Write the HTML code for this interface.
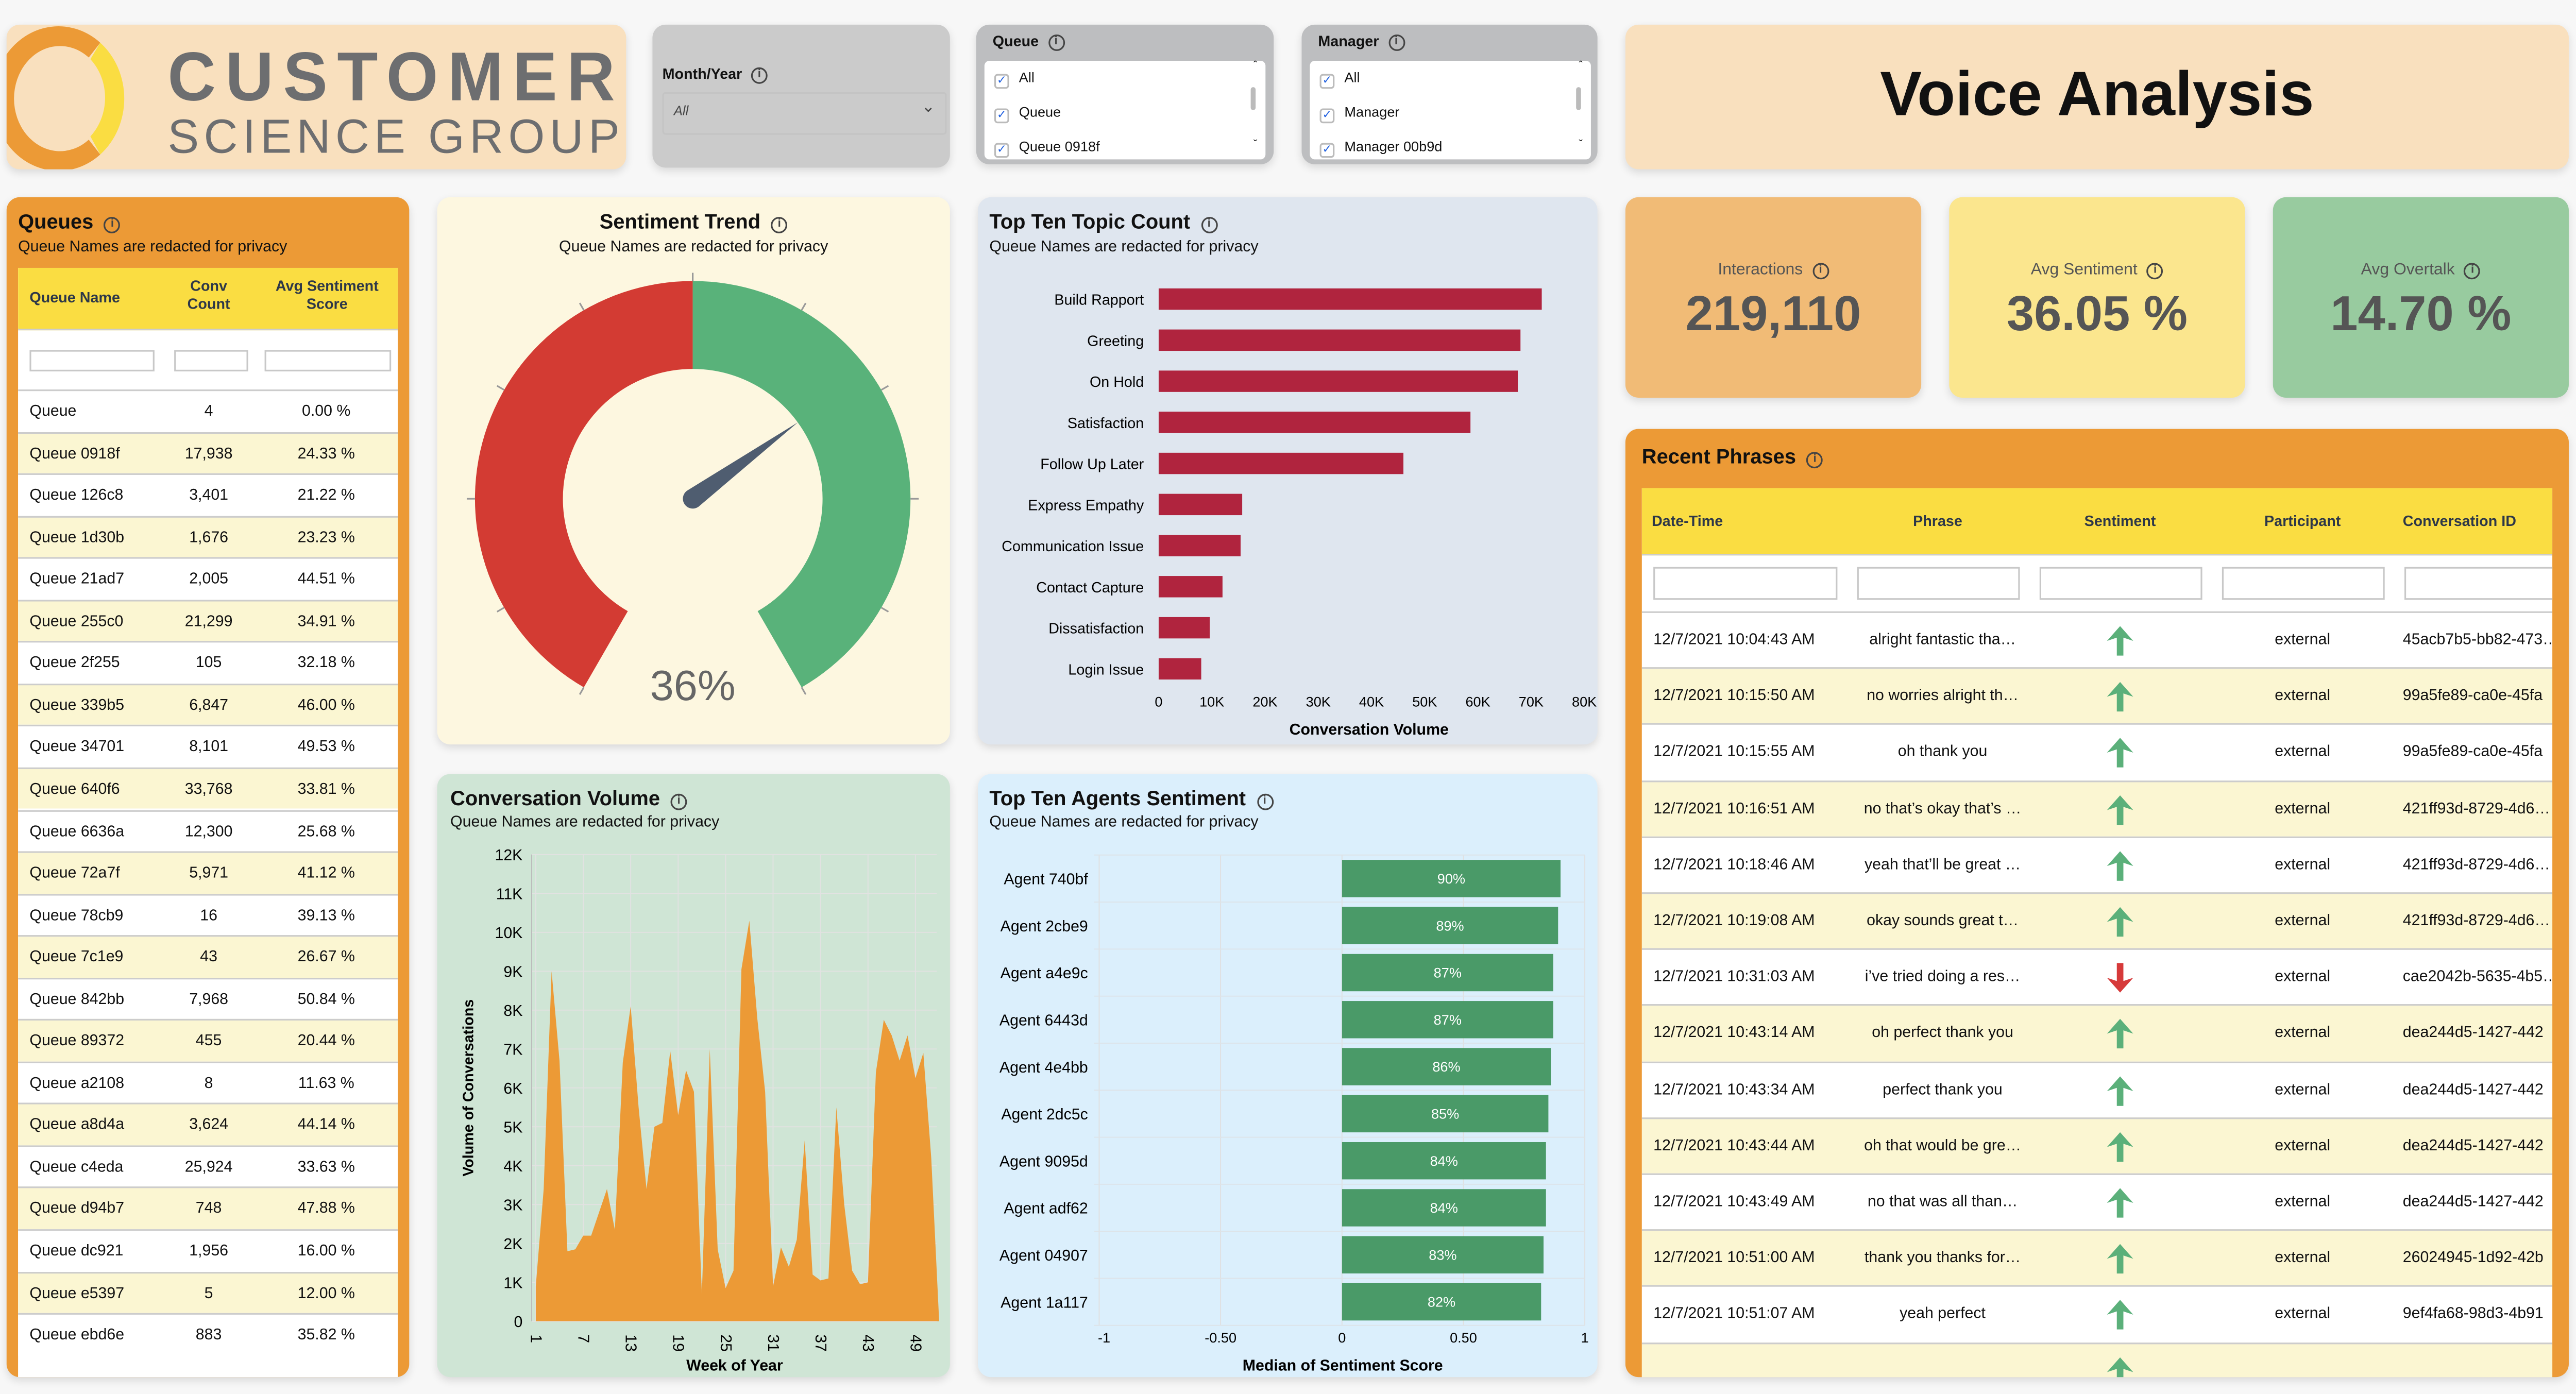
<!DOCTYPE html>
<html><head><meta charset="utf-8">
<style>
html,body{margin:0;padding:0;background:#f7f7f7;overflow:hidden;width:5038px;height:2706px}
#root{position:absolute;left:0;top:0;width:1568px;height:842px;transform-origin:0 0;transform:scale(3.190,3.190);font-family:"Liberation Sans",sans-serif;color:#111}
.p{position:absolute;border-radius:8px;box-shadow:0 2px 5px rgba(0,0,0,0.12)}
.t{position:absolute;white-space:nowrap}
.info{display:inline-block;width:8px;height:8px;border:1.2px solid #444;border-radius:50%;font-size:7px;line-height:8px;text-align:center;font-weight:bold;color:#444;vertical-align:1px;margin-left:3px}
.cb{display:inline-block;width:7px;height:7px;border:1px solid #bbb;border-radius:2px;font-size:7px;line-height:7px;color:#2060e0;text-align:center;margin-right:6px;vertical-align:-1px}
.fi{position:absolute;background:#fff;border:1px solid #c8c8c8;height:11px}
</style></head><body>
<div id="root">

<div class="p" style="left:4px;top:15px;width:377px;height:88px;background:#f9e0be">
<svg width="377" height="88">
<path d="M 57 11 A 40 44 0 1 0 57 79 L 50 70 A 28 32 0 1 1 50 20 Z" fill="#ec9a36"/>
<path d="M 57 11 A 40 44 0 0 1 57 79 L 51 68 A 30 33 0 0 0 51 21 Z" fill="#fadd42"/>
<text x="98" y="46" font-family="Liberation Sans" font-weight="bold" font-size="42" fill="#6d6e70" letter-spacing="6" textLength="278" lengthAdjust="spacingAndGlyphs">CUSTOMER</text>
<text x="98" y="78" font-family="Liberation Sans" font-size="29" fill="#6d6e70" letter-spacing="3" textLength="278" lengthAdjust="spacingAndGlyphs">SCIENCE GROUP</text>
</svg></div>

<div class="p" style="left:397px;top:15px;width:181px;height:87px;background:#cbcbcb">
<div class="t" style="left:6px;top:25px;font-size:9px;font-weight:bold">Month/Year <span class="info">i</span></div>
<div style="position:absolute;left:6px;top:41px;width:171px;height:24px;border:1px solid #c4c4c4;border-radius:2px">
<div class="t" style="left:6px;top:6px;font-size:8px;font-style:italic;color:#444">All</div>
<div class="t" style="right:6px;top:3px;font-size:10px;color:#444">&#8964;</div></div>
</div>

<div class="p" style="left:594px;top:15px;width:181px;height:85px;background:#bdbec0">
<div class="t" style="left:10px;top:5px;font-size:9px;font-weight:bold">Queue <span class="info">i</span></div>
<div style="position:absolute;left:5px;top:22px;width:171px;height:60px;background:#fff;border-radius:3px">
<div class="t" style="left:6px;top:5px;font-size:8.5px"><span class="cb">✓</span>All</div>
<div class="t" style="left:6px;top:26px;font-size:8.5px"><span class="cb">✓</span>Queue</div>
<div class="t" style="left:6px;top:47px;font-size:8.5px"><span class="cb">✓</span>Queue 0918f</div>
<div style="position:absolute;right:6px;top:16px;width:3px;height:14px;background:#bbb;border-radius:2px"></div>
<div class="t" style="right:5px;top:0px;font-size:7px">&#710;</div><div class="t" style="right:5px;top:48px;font-size:7px">&#711;</div>
</div></div>

<div class="p" style="left:792px;top:15px;width:180px;height:85px;background:#bdbec0">
<div class="t" style="left:10px;top:5px;font-size:9px;font-weight:bold">Manager <span class="info">i</span></div>
<div style="position:absolute;left:5px;top:22px;width:171px;height:60px;background:#fff;border-radius:3px">
<div class="t" style="left:6px;top:5px;font-size:8.5px"><span class="cb">✓</span>All</div>
<div class="t" style="left:6px;top:26px;font-size:8.5px"><span class="cb">✓</span>Manager</div>
<div class="t" style="left:6px;top:47px;font-size:8.5px"><span class="cb">✓</span>Manager 00b9d</div>
<div style="position:absolute;right:6px;top:16px;width:3px;height:14px;background:#bbb;border-radius:2px"></div>
<div class="t" style="right:5px;top:0px;font-size:7px">&#710;</div><div class="t" style="right:5px;top:48px;font-size:7px">&#711;</div>
</div></div>

<div class="p" style="left:989px;top:15px;width:574px;height:88px;background:#f9e0be">
<div class="t" style="left:0;width:574px;text-align:center;top:22px;font-size:38px;font-weight:bold">Voice Analysis</div></div>

<div class="p" style="left:989px;top:120px;width:180px;height:122px;background:#f1bb76">
<div class="t" style="width:180px;text-align:center;top:39px;font-size:10px;color:#555">Interactions <span class="info">i</span></div>
<div class="t" style="width:180px;text-align:center;top:55px;font-size:30px;font-weight:bold;color:#555">219,110</div></div>
<div class="p" style="left:1186px;top:120px;width:180px;height:122px;background:#fbe68e">
<div class="t" style="width:180px;text-align:center;top:39px;font-size:10px;color:#555">Avg Sentiment <span class="info">i</span></div>
<div class="t" style="width:180px;text-align:center;top:55px;font-size:30px;font-weight:bold;color:#555">36.05 %</div></div>
<div class="p" style="left:1383px;top:120px;width:180px;height:122px;background:#98cb9f">
<div class="t" style="width:180px;text-align:center;top:39px;font-size:10px;color:#555">Avg Overtalk <span class="info">i</span></div>
<div class="t" style="width:180px;text-align:center;top:55px;font-size:30px;font-weight:bold;color:#555">14.70 %</div></div>

<div class="p" style="left:4px;top:120px;width:245px;height:718px;background:#ec9a36;overflow:hidden">
<div class="t" style="left:7px;top:8px;font-size:12.5px;font-weight:bold">Queues <span class="info">i</span></div>
<div class="t" style="left:7px;top:25px;font-size:9.5px">Queue Names are redacted for privacy</div>
<div id="qtable" style="position:absolute;left:7px;top:43px;width:231px;height:680px;background:#fff;overflow:hidden">
<div style="position:absolute;left:0;top:0;width:231px;height:37px;background:#fadd42;border-bottom:1px solid #ccc;color:#2d3748;font-size:9px;font-weight:bold">
<div class="t" style="left:7px;top:13px">Queue Name</div>
<div class="t" style="left:96px;width:40px;text-align:center;top:6px;line-height:11px">Conv<br>Count</div>
<div class="t" style="left:148px;width:80px;text-align:center;top:6px;line-height:11px">Avg Sentiment<br>Score</div></div>
<div class="fi" style="left:7px;top:50px;width:74px"></div>
<div class="fi" style="left:95px;top:50px;width:43px"></div>
<div class="fi" style="left:150px;top:50px;width:75px"></div>
</div></div>

<div class="p" style="left:266px;top:120px;width:312px;height:333px;background:#fdf7e0">
<div class="t" style="width:312px;text-align:center;top:8px;font-size:12.5px;font-weight:bold">Sentiment Trend <span class="info">i</span></div>
<div class="t" style="width:312px;text-align:center;top:25px;font-size:9.5px">Queue Names are redacted for privacy</div></div>
<svg id="gauge" style="position:absolute;left:266px;top:120px" width="312" height="333"></svg>

<div class="p" style="left:595px;top:120px;width:377px;height:333px;background:#dfe6ef">
<div class="t" style="left:7px;top:8px;font-size:12.5px;font-weight:bold">Top Ten Topic Count <span class="info">i</span></div>
<div class="t" style="left:7px;top:25px;font-size:9.5px">Queue Names are redacted for privacy</div></div>
<svg id="topic" style="position:absolute;left:0;top:0" width="1568" height="842"></svg>

<div class="p" style="left:266px;top:471px;width:312px;height:367px;background:#cfe5d5">
<div class="t" style="left:8px;top:8px;font-size:12.5px;font-weight:bold">Conversation Volume <span class="info">i</span></div>
<div class="t" style="left:8px;top:24px;font-size:9.5px">Queue Names are redacted for privacy</div></div>
<svg id="area" style="position:absolute;left:0;top:0" width="1568" height="842"></svg>

<div class="p" style="left:595px;top:471px;width:377px;height:367px;background:#dbeffc">
<div class="t" style="left:7px;top:8px;font-size:12.5px;font-weight:bold">Top Ten Agents Sentiment <span class="info">i</span></div>
<div class="t" style="left:7px;top:24px;font-size:9.5px">Queue Names are redacted for privacy</div></div>
<svg id="agents" style="position:absolute;left:0;top:0" width="1568" height="842"></svg>

<div class="p" style="left:989px;top:261px;width:574px;height:577px;background:#ec9a36;overflow:hidden">
<div class="t" style="left:10px;top:10px;font-size:12.5px;font-weight:bold">Recent Phrases <span class="info">i</span></div>
<div id="ptable" style="position:absolute;left:10px;top:36px;width:554px;height:560px;background:#fff;overflow:hidden">
<div style="position:absolute;left:0;top:0;width:554px;height:40px;background:#fadd42;border-bottom:1px solid #ccc;color:#2d3748;font-size:9px;font-weight:bold">
<div class="t" style="left:6px;top:15px">Date-Time</div>
<div class="t" style="left:125px;width:110px;text-align:center;top:15px">Phrase</div>
<div class="t" style="left:241px;width:100px;text-align:center;top:15px">Sentiment</div>
<div class="t" style="left:352px;width:100px;text-align:center;top:15px">Participant</div>
<div class="t" style="left:463px;top:15px">Conversation ID</div></div>
<div class="fi" style="left:7px;top:48px;width:110px;height:18px"></div>
<div class="fi" style="left:131px;top:48px;width:97px;height:18px"></div>
<div class="fi" style="left:242px;top:48px;width:97px;height:18px"></div>
<div class="fi" style="left:353px;top:48px;width:97px;height:18px"></div>
<div class="fi" style="left:464px;top:48px;width:97px;height:18px"></div>
</div></div>

</div>
<script>
const NS='http://www.w3.org/2000/svg';
const queueNames=['Queue','Queue 0918f','Queue 126c8','Queue 1d30b','Queue 21ad7','Queue 255c0','Queue 2f255','Queue 339b5','Queue 34701','Queue 640f6','Queue 6636a','Queue 72a7f','Queue 78cb9','Queue 7c1e9','Queue 842bb','Queue 89372','Queue a2108','Queue a8d4a','Queue c4eda','Queue d94b7','Queue dc921','Queue e5397','Queue ebd6e'];
const queueCounts=['4','17,938','3,401','1,676','2,005','21,299','105','6,847','8,101','33,768','12,300','5,971','16','43','7,968','455','8','3,624','25,924','748','1,956','5','883'];
const queueScores=['0.00 %','24.33 %','21.22 %','23.23 %','44.51 %','34.91 %','32.18 %','46.00 %','49.53 %','33.81 %','25.68 %','41.12 %','39.13 %','26.67 %','50.84 %','20.44 %','11.63 %','44.14 %','33.63 %','47.88 %','16.00 %','12.00 %','35.82 %'];
const gaugeValue=0.36;
const topicNames=['Build Rapport','Greeting','On Hold','Satisfaction','Follow Up Later','Express Empathy','Communication Issue','Contact Capture','Dissatisfaction','Login Issue'];
const topicValues=[72000,68000,67500,58600,46000,15700,15400,12000,9600,8000];
const topicTicks=[0,10000,20000,30000,40000,50000,60000,70000,80000];
const weeks=[];for(let i=1;i<=52;i++)weeks.push(i);
const weekVolumes=[900,3400,9000,6700,1800,1850,2200,2200,2800,3400,2350,6650,8100,5500,3400,5000,5100,6950,5300,6450,5900,700,7000,1850,850,1300,9050,10300,7800,5900,900,1900,1400,2100,4650,1200,1050,1100,5500,3000,1300,950,1000,6400,7750,7350,6700,7350,6250,6900,4200,0];
const volumeTicks=[0,1000,2000,3000,4000,5000,6000,7000,8000,9000,10000,11000,12000];
const weekTicks=[1,7,13,19,25,31,37,43,49];
const agentNames=['Agent 740bf','Agent 2cbe9','Agent a4e9c','Agent 6443d','Agent 4e4bb','Agent 2dc5c','Agent 9095d','Agent adf62','Agent 04907','Agent 1a117'];
const agentScores=[0.90,0.89,0.87,0.87,0.86,0.85,0.84,0.84,0.83,0.82];
const agentTicks=[-1,-0.5,0,0.5,1];
const agentTickLabels=['-1','-0.50','0','0.50','1'];
const phraseTimes=['12/7/2021 10:04:43 AM','12/7/2021 10:15:50 AM','12/7/2021 10:15:55 AM','12/7/2021 10:16:51 AM','12/7/2021 10:18:46 AM','12/7/2021 10:19:08 AM','12/7/2021 10:31:03 AM','12/7/2021 10:43:14 AM','12/7/2021 10:43:34 AM','12/7/2021 10:43:44 AM','12/7/2021 10:43:49 AM','12/7/2021 10:51:00 AM','12/7/2021 10:51:07 AM',''];
const phraseTexts=['alright fantastic tha…','no worries alright th…','oh thank you','no that\u2019s okay that\u2019s …','yeah that\u2019ll be great …','okay sounds great t…','i\u2019ve tried doing a res…','oh perfect thank you','perfect thank you','oh that would be gre…','no that was all than…','thank you thanks for…','yeah perfect',''];
const phraseSent=[1,1,1,1,1,1,-1,1,1,1,1,1,1,1];
const phraseIds=['45acb7b5-bb82-473…','99a5fe89-ca0e-45fa','99a5fe89-ca0e-45fa','421ff93d-8729-4d6…','421ff93d-8729-4d6…','421ff93d-8729-4d6…','cae2042b-5635-4b5…','dea244d5-1427-442','dea244d5-1427-442','dea244d5-1427-442','dea244d5-1427-442','26024945-1d92-42b','9ef4fa68-98d3-4b91',''];

function se(tag,attrs,parent){const e=document.createElementNS(NS,tag);for(const k in attrs)e.setAttribute(k,attrs[k]);parent.appendChild(e);return e;}
function txt(parent,x,y,s,size,anchor,extra){const e=se('text',Object.assign({x:x,y:y,'font-size':size,'text-anchor':anchor||'start','font-family':'Liberation Sans'},extra||{}),parent);e.textContent=s;return e;}

const qt=document.getElementById('qtable');
queueNames.forEach((n,i)=>{
  const r=document.createElement('div');
  
  
  r.style.cssText='position:absolute;left:0;width:231px;height:25.55px;font-size:9.5px;border-top:1px solid #ccc;box-sizing:border-box;top:'+(74+i*25.55)+'px;background:'+(i%2?'#fbf6d2':'#fff');
  r.innerHTML='<div class="t" style="left:7px;top:7px">'+n+'</div><div class="t" style="left:86px;width:60px;text-align:center;top:7px">'+queueCounts[i]+'</div><div class="t" style="left:150px;width:75px;text-align:center;top:7px">'+queueScores[i]+'</div>';
  qt.appendChild(r);
});

(function(){
  const g=document.getElementById('gauge');
  const cx=155.5,cy=183.5,R=132.5,r=79;
  const ang=v=>v*150*Math.PI/180;
  const pt=(a,rad)=>[cx+rad*Math.sin(a),cy-rad*Math.cos(a)];
  function arc(a0,a1,col,name){
    const p1=pt(a0,R),p2=pt(a1,R),p3=pt(a1,r),p4=pt(a0,r);
    const large=Math.abs(a1-a0)>Math.PI?1:0;
    const p=se('path',{d:`M${p1} A${R},${R} 0 ${large} 1 ${p2} L${p3} A${r},${r} 0 ${large} 0 ${p4} Z`,fill:col},g);
    
    
  }
  arc(ang(-1),ang(0),'#d33b33','negative-arc');
  arc(ang(0),ang(1),'#59b27a','positive-arc');
  for(let d=-150;d<=150;d+=30){const a=d*Math.PI/180;const a1=pt(a,R),a2=pt(a,R+5);se('line',{x1:a1[0],y1:a1[1],x2:a2[0],y2:a2[1],stroke:'#999','stroke-width':1},g);}
  const a=ang(gaugeValue);
  const tip=pt(a,r),b1=pt(a-Math.PI/2,6),b2=pt(a+Math.PI/2,6);
  const n=se('path',{d:`M${b1} L${tip} L${b2} A6,6 0 0 1 ${b1} Z`,fill:'#4f5d70'},g);
  
  
  const t=txt(g,cx,306,Math.round(gaugeValue*100)+'%',26,'middle',{fill:'#666'});
  
  
})();

(function(){
  const s=document.getElementById('topic');
  const x0=705,x1=964,xmax=80000,y0=182,step=25,bh=13;
  const X=v=>x0+(x1-x0)*v/xmax;
  topicTicks.forEach(t=>{txt(s,X(t),430,t===0?'0':(t/1000)+'K',8.5,'middle');});
  topicNames.forEach((n,i)=>{
    const y=y0+i*step;
    txt(s,696,y+3.5,n,9,'end');
    const b=se('rect',{x:X(0),y:y-bh/2,width:X(topicValues[i])-X(0),height:bh,fill:'#b0243e'},s);
    
    
  });
  txt(s,833,447,'Conversation Volume',9.5,'middle',{'font-weight':'bold'});
})();

(function(){
  const s=document.getElementById('area');
  const L=323.5,Rr=570,yb=804,yt=520,ymax=12000;
  const X=w=>326+(w-1)*(557-326)/48;
  const Y=v=>yb-(yb-yt)*v/ymax;
  volumeTicks.forEach(t=>{
    se('line',{x1:L,x2:Rr,y1:Y(t),y2:Y(t),stroke:'#e2e2e2','stroke-width':0.6},s);
    txt(s,318,Y(t)+3.5,t===0?'0':(t/1000)+'K',9.5,'end');
  });
  weekTicks.forEach(w=>{
    se('line',{x1:X(w),x2:X(w),y1:yt,y2:yb,stroke:'#e2e2e2','stroke-width':0.6},s);
    txt(s,X(w)-3,812,String(w),9.5,'start',{transform:`rotate(90 ${X(w)-3} 812)`});
  });
  let d=`M${X(weeks[0])},${Y(0)}`;
  weeks.forEach((w,i)=>{d+=` L${X(w)},${Y(weekVolumes[i])}`;});
  d+=` L${X(weeks[weeks.length-1])},${Y(0)} Z`;
  const p=se('path',{d:d,fill:'#ec9a36'},s);
  
  
  se('line',{x1:L,x2:L,y1:yt,y2:yb,stroke:'#bbb','stroke-width':0.6},s);
  txt(s,447,834,'Week of Year',9.5,'middle',{'font-weight':'bold'});
  txt(s,288,662,'Volume of Conversations',9,'middle',{'font-weight':'bold',transform:'rotate(-90 288 662)'});
})();

(function(){
  const s=document.getElementById('agents');
  const xa=668.8,xb=964.3,yt=520.3,rowH=28.62,bh=22.7;
  const X=v=>xa+(xb-xa)*(v+1)/2;
  agentTicks.forEach((t,i)=>{
    se('line',{x1:X(t),x2:X(t),y1:yt,y2:yt+rowH*10,stroke:'#e0e0e0','stroke-width':0.6},s);
    txt(s,X(t)+(i===0?3:0),817,agentTickLabels[i],8.5,'middle');
  });
  for(let i=0;i<=10;i++)se('line',{x1:xa-3,x2:xb,y1:yt+i*rowH,y2:yt+i*rowH,stroke:'#dde3e8','stroke-width':0.6},s);
  agentNames.forEach((n,i)=>{
    const yc=yt+i*rowH+rowH/2;
    txt(s,662,yc+3.5,n,9.5,'end');
    const b=se('rect',{x:X(0),y:yc-bh/2,width:X(agentScores[i])-X(0),height:bh,fill:'#4a9a68'},s);
    
    
    txt(s,(X(0)+X(agentScores[i]))/2,yc+3,Math.round(agentScores[i]*100)+'%',8.5,'middle',{fill:'#fff'});
  });
  txt(s,817,834,'Median of Sentiment Score',9.5,'middle',{'font-weight':'bold'});
})();

const pt=document.getElementById('ptable');
phraseTimes.forEach((t,i)=>{
  const r=document.createElement('div');
  
  
  r.style.cssText='position:absolute;left:0;width:554px;height:34.2px;font-size:9.5px;border-top:1px solid #ccc;box-sizing:border-box;top:'+(75+i*34.2)+'px;background:'+(i%2?'#fbf6d2':'#fff');
  const col=phraseSent[i]>0?'#5bb07a':'#d63a3a';
  const arrow=phraseSent[i]>0?'<svg width="16" height="18" viewBox="0 0 16 18"><path d="M8 0 L16 9 L10 7 L10 18 L6 18 L6 7 L0 9 Z" fill="'+col+'"/></svg>':'<svg width="16" height="18" viewBox="0 0 16 18"><path d="M8 18 L16 9 L10 11 L10 0 L6 0 L6 11 L0 9 Z" fill="'+col+'"/></svg>';
  r.innerHTML='<div class="t" style="left:7px;top:11px">'+t+'</div><div class="t" style="left:131px;width:104px;text-align:center;top:11px;overflow:hidden">'+phraseTexts[i]+'</div><div class="t" style="left:283px;top:8px">'+arrow+'</div><div class="t" style="left:352px;width:100px;text-align:center;top:11px">'+(t?'external':'')+'</div><div class="t" style="left:463px;top:11px">'+phraseIds[i]+'</div>';
  pt.appendChild(r);
});
</script>
</body></html>
